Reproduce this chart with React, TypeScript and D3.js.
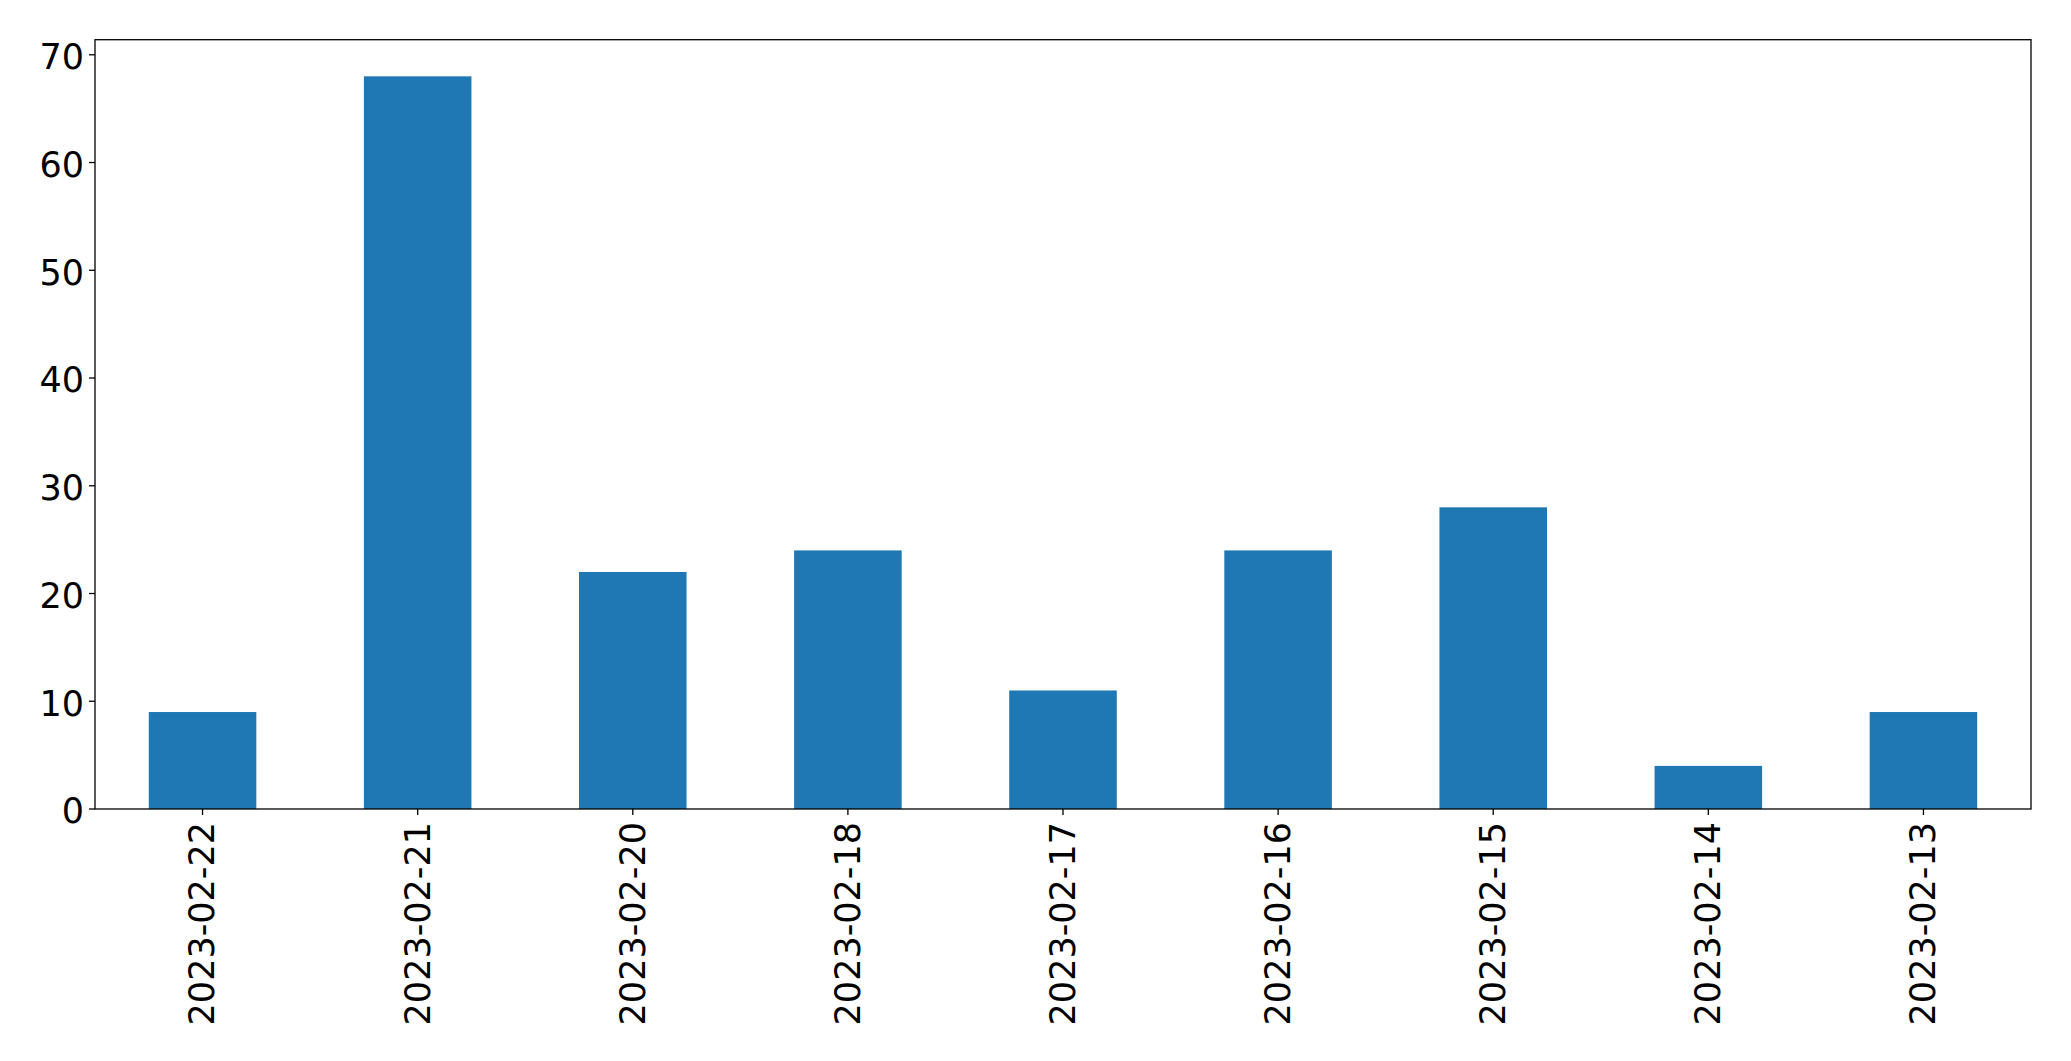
import React from "react";
import * as d3 from "d3";

const categories = ["2023-02-22", "2023-02-21", "2023-02-20", "2023-02-18", "2023-02-17", "2023-02-16", "2023-02-15", "2023-02-14", "2023-02-13"];
const values = [9, 68, 22, 24, 11, 24, 28, 4, 9];
const yTicks = [0, 10, 20, 30, 40, 50, 60, 70];

const W = 2071;
const H = 1061;
const margin = { left: 95, right: 2031, top: 39.7, bottom: 809 };
const FONT = "'DejaVu Sans', sans-serif";
const FS = 35;

export default function App() {
  const x = d3
    .scaleBand<string>()
    .domain(categories)
    .range([margin.left, margin.right])
    .paddingInner(0.5)
    .paddingOuter(0.25);
  const yMax = d3.max(values)! * 1.05;
  const y = d3.scaleLinear().domain([0, yMax]).range([margin.bottom, margin.top]);

  return (
    <svg width={W} height={H} style={{ position: "absolute", left: 0, top: 0, background: "#fff" }}>
      <rect x={0} y={0} width={W} height={H} fill="#fff" />
      {categories.map((c, i) => (
        <rect
          key={c}
          x={x(c)!}
          y={y(values[i])}
          width={x.bandwidth()}
          height={y(0) - y(values[i])}
          fill="#1f77b4"
        />
      ))}
      <rect
        x={margin.left}
        y={margin.top}
        width={margin.right - margin.left}
        height={margin.bottom - margin.top}
        fill="none"
        stroke="#000"
        strokeWidth={1.3}
      />
      {yTicks.map((t) => (
        <g key={t}>
          <line x1={margin.left - 6} x2={margin.left} y1={y(t)} y2={y(t)} stroke="#000" strokeWidth={1.3} />
          <text
            x={margin.left - 11}
            y={y(t)}
            dy="0.41em"
            textAnchor="end"
            fontFamily={FONT}
            fontSize={FS}
            fill="#000"
          >
            {t}
          </text>
        </g>
      ))}
      {categories.map((c) => {
        const cx = x(c)! + x.bandwidth() / 2;
        return (
          <g key={c}>
            <line x1={cx} x2={cx} y1={margin.bottom} y2={margin.bottom + 6} stroke="#000" strokeWidth={1.3} />
            <text
              transform={`translate(${cx},${margin.bottom + 13}) rotate(-90)`}
              dy="0.34em"
              textAnchor="end"
              fontFamily={FONT}
              fontSize={FS}
              fill="#000"
            >
              {c}
            </text>
          </g>
        );
      })}
    </svg>
  );
}
